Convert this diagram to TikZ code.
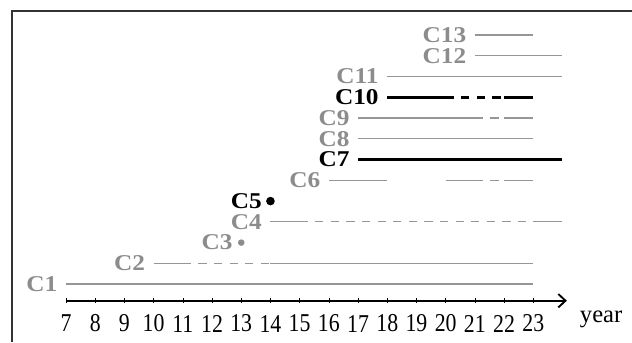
\documentclass[tikz,border=0pt]{standalone}
\usepackage{fontspec}
\setmainfont{Liberation Serif}
\newfontfamily\numfont{Liberation Serif}[FakeStretch=0.85]
\newfontfamily\labfont{Liberation Serif}[FakeStretch=1.12]
\usetikzlibrary{arrows.meta}
\definecolor{G4}{RGB}{140,140,140}
\definecolor{L4}{RGB}{150,150,150}

\begin{document}
\begin{tikzpicture}[x=0.5cm, y=0.3553cm,
    lab/.style={anchor=east, inner sep=0pt, xshift=-4pt, text=G4,
                font=\labfont\fontsize{11}{11}\selectfont\bfseries},
    key/.style={lab, text=black},
    bar/.style={L4, line width=0.6pt},
    hot/.style={black, line width=1.6pt},
    gaps/.style={dash pattern=on 4pt off 3.6pt}]
      \useasboundingbox (4.74,-1.795) rectangle (26.38,14.69);
      \draw[line width=0.8pt, black!80] (5.15,-1.795) -- (5.15,14.16) -- (26.38,14.16);
      % axis
      \coordinate (o) at (7,0.2);
      \coordinate (e) at (24.15,0.2);
      \draw[line width=0.9pt, -{Straight Barb[length=3.5pt,width=6.5pt]}] (o) -- (e);
      \foreach \t in {7,...,23} {
        \draw[line width=0.3pt] (\t,0.08) -- (\t,0.32);
        \node[font=\numfont\fontsize{12.5}{12.5}\selectfont] (n\t) at (\t,-0.9) {\t};
      }
      \node[font=\fontsize{12}{12}\selectfont, anchor=west] (yr) at (24.35,-0.72) {year};
      % rows
      \node[lab] (c1) at (7,1) {C1};
      \draw[bar] (7,1) -- (23,1);
      \node[lab] (c2) at (10,2) {C2};
      \draw[bar] (10,2) -- (11,2); \draw[bar,gaps] (11,2) -- (14,2); \draw[bar] (14,2) -- (23,2);
      \fill[G4] (13,3) circle[radius=1.6pt];
      \node[lab] (c3) at (13,3) {C3};
      \node[lab] (c4) at (14,4) {C4};
      \draw[bar] (14,4) -- (15,4); \draw[bar,gaps] (15,4) -- (23,4); \draw[bar] (23,4) -- (24,4);
      \fill (14,5) circle[radius=2.1pt];
      \node[key] (c5) at (14,5) {C5};
      \node[lab] (c6) at (16,6) {C6};
      \draw[bar] (16,6) -- (18,6);
      \draw[bar] (20,6) -- (21,6); \draw[bar,gaps] (21,6) -- (22,6); \draw[bar] (22,6) -- (23,6);
      \node[key] (c7) at (17,7) {C7};
      \draw[hot] (17,7) -- (24,7);
      \node[lab] (c8) at (17,8) {C8};
      \draw[bar] (17,8) -- (23,8);
      \node[lab] (c9) at (17,9) {C9};
      \draw[bar] (17,9) -- (21,9); \draw[bar,gaps] (21,9) -- (22,9); \draw[bar] (22,9) -- (23,9);
      \node[key] (c10) at (18,10) {C10};
      \draw[hot] (18,10) -- (20,10); \draw[hot,gaps] (20,10) -- (22,10); \draw[hot] (22,10) -- (23,10);
      \node[lab] (c11) at (18,11) {C11};
      \draw[bar] (18,11) -- (24,11);
      \node[lab] (c12) at (21,12) {C12};
      \draw[bar] (21,12) -- (24,12);
      \node[lab] (c13) at (21,13) {C13};
      \draw[bar] (21,13) -- (23,13);
    \end{tikzpicture}
\end{document}
